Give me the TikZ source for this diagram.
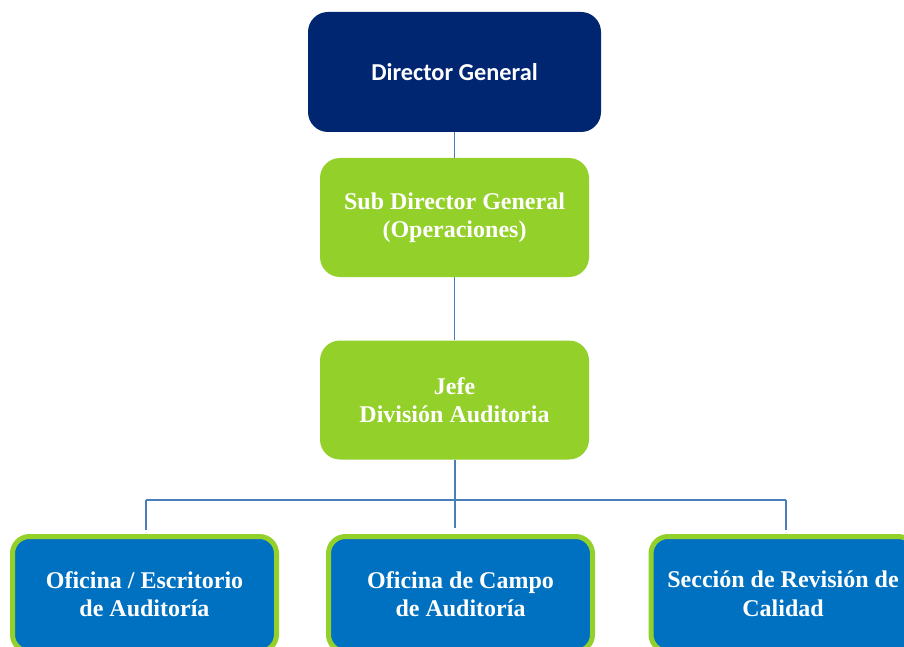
\documentclass[tikz,border=0pt]{standalone}
\usepackage{fontspec}
\setmainfont{Liberation Serif}
\newfontfamily\calibrifont{Carlito}
\usetikzlibrary{positioning}
\definecolor{dgnavy}{RGB}{0,38,114}
\definecolor{orggreen}{RGB}{148,208,42}
\definecolor{orgblue}{RGB}{0,112,192}
\definecolor{linkblue}{RGB}{74,126,187}
\tikzset{
	orgnode/.style = {align=center, inner sep=0pt, text centered,
		text=white, font=\bfseries\fontsize{24}{28.5}\selectfont},
	org_dg/.style = {orgnode, rectangle, rounded corners=20pt, fill=dgnavy,
		minimum width=293pt, minimum height=120pt,
		font=\calibrifont\bfseries\fontsize{24.3}{29}\selectfont},% director
	org_g/.style = {orgnode, rectangle, rounded corners=20pt, fill=orggreen,
		minimum width=269pt, minimum height=119pt},% jefaturas
	org_b/.style = {orgnode, rectangle, rounded corners=17pt, fill=orgblue,
		draw=orggreen, line width=5pt,
		minimum width=264pt, minimum height=115pt},% oficinas
	link/.style = {draw=linkblue, line width=1.8pt}
}
\begin{document}
\begin{tikzpicture}[x=1pt,y=-1pt]
	\useasboundingbox (0,0) rectangle (904,647);
	\clip (0,0) rectangle (904,647);
	\node[org_dg] (dg) at (454.5,72) {Director General};
	\node[org_g] (sdg) at (454.5,217.5) {Sub Director General\\(Operaciones)};
	\node[org_g] (jefe) at (454.5,400) {Jefe\\División Auditoria};
	\node[org_b] (ofi) at (144.5,594) {Oficina / Escritorio\\de Auditoría};
	\node[org_b] (campo) at (460.5,594) {Oficina de Campo\\de Auditoría};
	\node[org_b] (cal) at (783,594) {Sección de Revisión de\\Calidad};
	% barra horizontal
	\coordinate (busL) at (146,500);
	\coordinate (busR) at (786,500);
	\coordinate (endL) at (146,530);
	\coordinate (endM) at (455,528);
	\coordinate (endR) at (786,530);
	\draw[link] (dg) -- (sdg);
	\draw[link] (sdg) -- (jefe);
	\draw[link] (jefe.south -| endM) -- (endM);
	\draw[link] (busL) -- (busR);
	\draw[link] (busL) -- (endL);
	\draw[link] (busR) -- (endR);
\end{tikzpicture}
\end{document}
